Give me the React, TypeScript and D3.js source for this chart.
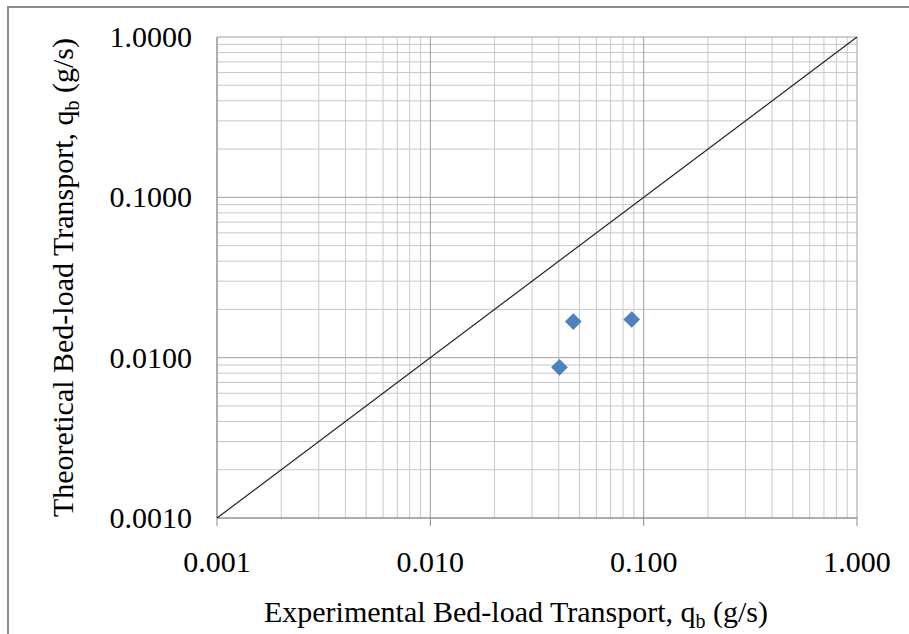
import { useEffect, useRef } from 'react'
import * as d3 from 'd3'

const experimental = [0.0403, 0.0468, 0.0879]
const theoretical = [0.0087, 0.0168, 0.0173]
const xTicks = [0.001, 0.01, 0.1, 1]
const yTicks = [0.001, 0.01, 0.1, 1]
const xTickLabels = ['0.001', '0.010', '0.100', '1.000']
const yTickLabels = ['0.0010', '0.0100', '0.1000', '1.0000']
const lineEnds = [0.001, 1]

export default function App() {
  const ref = useRef<SVGSVGElement>(null)

  useEffect(() => {
    const svg = d3.select(ref.current)
    svg.selectAll('*').remove()

    const width = 909
    const height = 634
    const margin = { top: 37, right: 52, bottom: 116, left: 217 }
    const font = '"Liberation Serif", "Times New Roman", serif'

    const x = d3.scaleLog()
      .domain([0.001, 1])
      .range([margin.left, width - margin.right])

    const y = d3.scaleLog()
      .domain([0.001, 1])
      .range([height - margin.bottom, margin.top])

    svg.append('rect')
      .attr('width', width)
      .attr('height', height)
      .attr('fill', '#fff')

    // outer frame
    svg.append('rect')
      .attr('x', 8)
      .attr('y', 7)
      .attr('width', width + 10)
      .attr('height', height + 10)
      .attr('fill', 'none')
      .attr('stroke', '#8c8c8c')
      .attr('stroke-width', 2)

    // minor grid
    const minors: number[] = []
    for (let e = -3; e < 0; e++) {
      for (let m = 2; m <= 9; m++) minors.push(m * Math.pow(10, e))
    }

    const grid = svg.append('g')
    grid.selectAll('.vx')
      .data(minors)
      .join('line')
      .attr('x1', d => x(d)).attr('x2', d => x(d))
      .attr('y1', y(0.001)).attr('y2', y(1))
      .attr('stroke', '#c8c8c8')
      .attr('stroke-width', 1)
    grid.selectAll('.hy')
      .data(minors)
      .join('line')
      .attr('y1', d => y(d)).attr('y2', d => y(d))
      .attr('x1', x(0.001)).attr('x2', x(1))
      .attr('stroke', '#c8c8c8')
      .attr('stroke-width', 1)

    // major grid
    svg.append('g').selectAll('line')
      .data(xTicks)
      .join('line')
      .attr('x1', d => x(d)).attr('x2', d => x(d))
      .attr('y1', y(0.001)).attr('y2', y(1))
      .attr('stroke', '#a0a0a0')
      .attr('stroke-width', 1)
    svg.append('g').selectAll('line')
      .data(yTicks)
      .join('line')
      .attr('y1', d => y(d)).attr('y2', d => y(d))
      .attr('x1', x(0.001)).attr('x2', x(1))
      .attr('stroke', '#a0a0a0')
      .attr('stroke-width', 1)

    // axes
    svg.append('line')
      .attr('x1', x(0.001)).attr('x2', x(1))
      .attr('y1', y(0.001)).attr('y2', y(0.001))
      .attr('stroke', '#8c8c8c')
    svg.append('line')
      .attr('x1', x(0.001)).attr('x2', x(0.001))
      .attr('y1', y(0.001)).attr('y2', y(1))
      .attr('stroke', '#8c8c8c')

    svg.append('g').selectAll('line')
      .data(xTicks)
      .join('line')
      .attr('x1', d => x(d)).attr('x2', d => x(d))
      .attr('y1', y(0.001)).attr('y2', y(0.001) + 8)
      .attr('stroke', '#8c8c8c')

    // tick labels
    svg.append('g').selectAll('text')
      .data(xTicks)
      .join('text')
      .attr('x', d => x(d))
      .attr('y', y(0.001) + 54)
      .attr('text-anchor', 'middle')
      .style('font-family', font)
      .style('font-size', '30px')
      .attr('fill', '#000')
      .text((d, i) => xTickLabels[i])

    svg.append('g').selectAll('text')
      .data(yTicks)
      .join('text')
      .attr('x', x(0.001) - 25)
      .attr('y', d => y(d) + 10)
      .attr('text-anchor', 'end')
      .style('font-family', font)
      .style('font-size', '30px')
      .attr('fill', '#000')
      .text((d, i) => yTickLabels[i])

    // 1:1 line
    svg.append('path')
      .datum(lineEnds)
      .attr('fill', 'none')
      .attr('stroke', '#222')
      .attr('stroke-width', 1.2)
      .attr('d', d3.line<number>().x(d => x(d)).y(d => y(d)))

    // points
    svg.append('g').selectAll('path')
      .data(experimental)
      .join('path')
      .attr('d', d3.symbol(d3.symbolSquare, 140)())
      .attr('transform', (d, i) => `translate(${x(d)},${y(theoretical[i])}) rotate(45)`)
      .attr('fill', '#4f81bd')

    // axis titles
    const xt = svg.append('text')
      .attr('x', 516)
      .attr('y', 622)
      .attr('text-anchor', 'middle')
      .style('font-family', font)
      .style('font-size', '30px')
      .attr('fill', '#000')
    xt.append('tspan').text('Experimental Bed-load Transport, q')
    xt.append('tspan').attr('dy', 6).style('font-size', '20px').text('b')
    xt.append('tspan').attr('dy', -6).text(' (g/s)')

    const yt = svg.append('text')
      .attr('transform', `translate(73,${(y(0.001) + y(1)) / 2}) rotate(-90)`)
      .attr('text-anchor', 'middle')
      .style('font-family', font)
      .style('font-size', '30px')
      .attr('fill', '#000')
    yt.append('tspan').text('Theoretical Bed-load Transport, q')
    yt.append('tspan').attr('dy', 6).style('font-size', '20px').text('b')
    yt.append('tspan').attr('dy', -6).text(' (g/s)')
  }, [])

  return (
    <svg
      ref={ref}
      width={909}
      height={634}
      style={{ position: 'absolute', left: 0, top: 0, display: 'block' }}
    />
  )
}
